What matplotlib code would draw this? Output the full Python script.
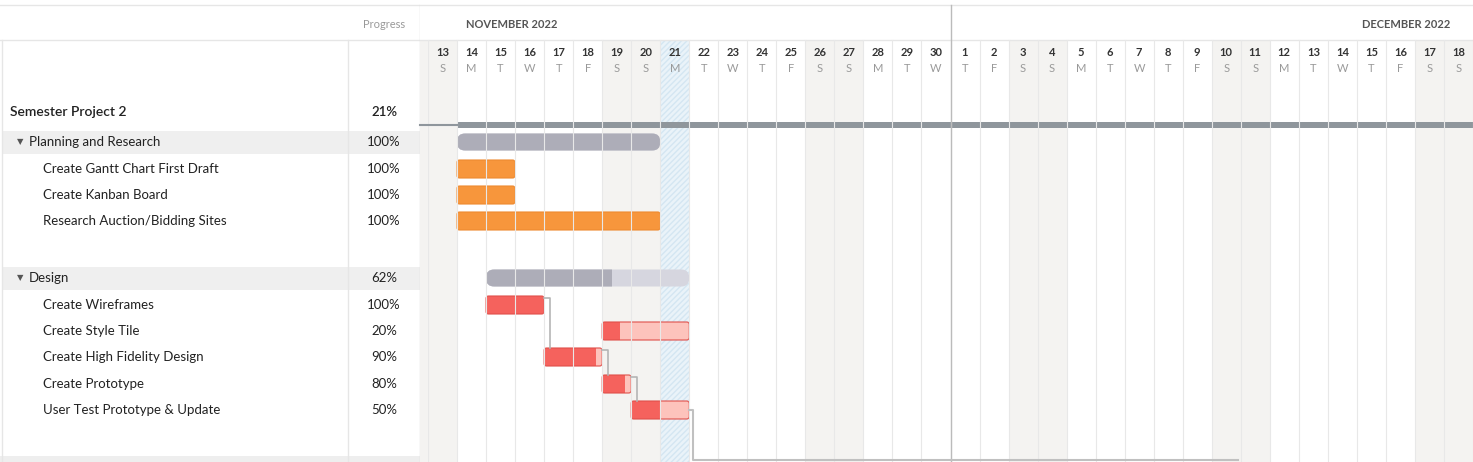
import matplotlib
matplotlib.use('Agg')
import matplotlib.pyplot as plt
from matplotlib.patches import FancyBboxPatch, Rectangle

plt.rcParams['font.family'] = ['Lato', 'DejaVu Sans']

# --- data ---
day_numbers = list(range(13, 31)) + list(range(1, 19))
day_letters = (["S", "M", "T", "W", "T", "F", "S"] * 6)[:36]
weekend_idx = [i for i, d in enumerate(day_letters) if d == "S"]
today_idx = 8  # Nov 21

project_name = "Semester Project 2"
project_progress = "21%"

# rows: (name, progress %, start day index, duration days, kind)
tasks = [
    ("Planning and Research", 100, 1, 7, "group"),
    ("Create Gantt Chart First Draft", 100, 1, 2, "orange"),
    ("Create Kanban Board", 100, 1, 2, "orange"),
    ("Research Auction/Bidding Sites", 100, 1, 7, "orange"),
    ("Design", 62, 2, 7, "group"),
    ("Create Wireframes", 100, 2, 2, "red"),
    ("Create Style Tile", 20, 6, 3, "red"),
    ("Create High Fidelity Design", 90, 4, 2, "red"),
    ("Create Prototype", 80, 6, 1, "red"),
    ("User Test Prototype & Update", 50, 7, 2, "red"),
]
row_y = [142, 169, 195, 221, 278, 305, 331, 357, 384, 410]
deps = [(5, 7), (7, 8), (8, 9)]

W, H = 1473, 462
fig = plt.figure(figsize=(W / 100, H / 100), dpi=100)

# --- left table ---
axl = fig.add_axes([0, 0, 420 / W, 1])
axl.set_xlim(0, 420)
axl.set_ylim(H, 0)
axl.axis("off")
axl.axhline(5, color="#e6e6e6", lw=1)
axl.axhline(40, color="#e6e6e6", lw=1)
axl.plot([348, 348], [40, H], color="#e6e6e6", lw=1)
axl.plot([419.5, 419.5], [5, H], color="#dddddd", lw=1)
axl.plot([2, 2], [40, H], color="#e6e6e6", lw=1)
axl.text(384, 24, "Progress", ha="center", va="center", fontsize=8, color="#999999")
axl.text(10, 112, project_name, ha="left", va="center", fontsize=10, color="#222222", fontweight="semibold")
axl.text(384, 112, project_progress, ha="center", va="center", fontsize=9.5, color="#222222", fontweight="semibold")
axl.add_patch(Rectangle((0, 456), 420, 6, color="#eeeeee", lw=0))
for (name, prog, s, d, kind), y in zip(tasks, row_y):
    if kind == "group":
        axl.add_patch(Rectangle((2, y - 11), 418, 23, color="#efefef", lw=0))
        axl.text(17, y, "▼", ha="left", va="center", fontsize=6, color="#555555")
        axl.text(29, y, name, ha="left", va="center", fontsize=9.5, color="#222222")
    else:
        axl.text(43, y, name, ha="left", va="center", fontsize=9.5, color="#222222")
    axl.text(384, y, f"{prog}%", ha="center", va="center", fontsize=9.5, color="#222222")

# --- timeline (x in pixels, one day = DW px) ---
x0 = 428
tw = W - x0
DW = tw / 36
ax = fig.add_axes([x0 / W, 0, tw / W, 1])
ax.set_xlim(0, tw)
ax.set_ylim(H, 0)
ax.axis("off")

ax.plot([-8, tw], [5, 5], color="#e6e6e6", lw=1, clip_on=False)
ax.plot([-8, tw], [40, 40], color="#e6e6e6", lw=1, clip_on=False)
ax.add_patch(Rectangle((-8, 40), 8, H, color="#f4f3f1", lw=0, clip_on=False))
for i in weekend_idx:
    ax.add_patch(Rectangle((i * DW, 40), DW, H, color="#f4f3f1", lw=0))
ax.add_patch(Rectangle((today_idx * DW, 40), DW, H, facecolor="#eaf3f9", edgecolor="#d4e6f2",
                       hatch="//////", lw=0))
for i in range(37):
    ax.plot([i * DW, i * DW], [40, H], color="#e8e8e8", lw=0.8)
ax.plot([18 * DW, 18 * DW], [5, H], color="#bbbbbb", lw=1)

ax.text(38, 25, "NOVEMBER 2022", ha="left", va="center", fontsize=8,
        color="#555555", fontweight="bold")
ax.text(tw - 23, 25, "DECEMBER 2022", ha="right", va="center", fontsize=8,
        color="#555555", fontweight="bold")
for i, (n, l) in enumerate(zip(day_numbers, day_letters)):
    ax.text((i + 0.5) * DW, 53, str(n), ha="center", va="center", fontsize=8, color="#333333", fontweight="bold")
    ax.text((i + 0.5) * DW, 69, l, ha="center", va="center", fontsize=8, color="#999999")

# project bar
ax.plot([-8, DW], [125, 125], color="#8f969c", lw=1.5, clip_on=False)
ax.add_patch(Rectangle((DW, 122), tw - DW, 6, color="#8f969c", lw=0))

colors = {"orange": ("#f7963c", "#f7963c"), "red": ("#f5625d", "#fdc3bc"),
          "group": ("#adadb8", "#d6d6df")}
for (name, prog, s, d, kind), y in zip(tasks, row_y):
    dark, light = colors[kind]
    h = 17 if kind == "group" else 18
    rad = 8 if kind == "group" else 2.5
    xs, wd = s * DW, d * DW
    edge = "#e0504b" if kind == "red" else ("#ee8a30" if kind == "orange" else None)
    style = f"round,pad=0,rounding_size={rad}"
    ax.add_patch(FancyBboxPatch((xs, y - h / 2), wd, h, boxstyle=style, facecolor=light, edgecolor="none"))
    if prog > 0:
        clip = Rectangle((xs, y - h), wd * prog / 100, 2 * h, transform=ax.transData)
        p = FancyBboxPatch((xs, y - h / 2), wd, h, boxstyle=style, facecolor=dark, edgecolor="none")
        ax.add_patch(p)
        p.set_clip_path(clip)
    if edge:
        ax.add_patch(FancyBboxPatch((xs, y - h / 2), wd, h, boxstyle=style,
                                    facecolor="none", edgecolor=edge, lw=0.8))

for a, b in deps:
    end = (tasks[a][2] + tasks[a][3]) * DW
    ya, yb = row_y[a], row_y[b]
    ax.plot([end, end + 6, end + 6], [ya - 7, ya - 7, yb - 9], color="#b5b5b5", lw=1.2)
# last task to bottom summary line
end = (tasks[9][2] + tasks[9][3]) * DW
ax.plot([end, end + 4, end + 4, 1238 - x0], [410, 410, 460, 460], color="#c0c0c0", lw=1.5)

fig.savefig("out.png", dpi=100)
plt.close(fig)
